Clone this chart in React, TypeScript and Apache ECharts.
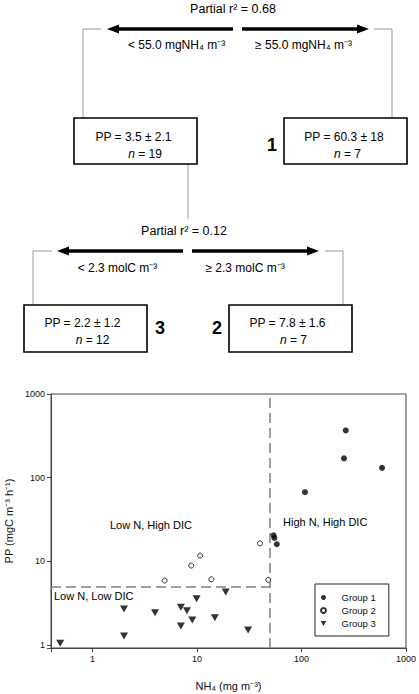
import React, { useEffect, useRef } from "react";
import * as echarts from "echarts";

// ---- data ----
const group1NH4 = [265, 255, 590, 108, 54, 55, 58];
const group1PP = [367, 170, 131, 67, 20.5, 19, 16];
const group2NH4 = [4.9, 8.8, 10.7, 13.7, 40, 48];
const group2PP = [5.9, 8.9, 11.7, 6.1, 16.4, 6.0];
const group3NH4 = [0.49, 2.0, 2.0, 3.96, 7.0, 8.0, 7.0, 9.0, 9.9, 18.8, 14.8, 30.8];
const group3PP = [1.05, 2.69, 1.28, 2.43, 2.82, 2.57, 1.69, 1.99, 3.57, 4.3, 2.12, 1.51];
const seriesNames = ["Group 1", "Group 2", "Group 3"];
const nh4Threshold = 50;
const ppThreshold = 5;
const xMin = 0.4;
const xMax = 1000;
const yMin = 0.92;
const yMax = 1000;

const zip = (a: number[], b: number[]) => a.map((v, i) => [v, b[i]]);

const FONT = "'Liberation Sans', Arial, sans-serif";

const isPow10 = (v: number) => {
  const l = Math.log10(v);
  return Math.abs(l - Math.round(l)) < 1e-6;
};
const fmt = (v: number) => (isPow10(v) ? String(Math.round(v)) : "");

function txt(x: number, y: number, text: string, opts: any = {}) {
  return {
    type: "text",
    x,
    y,
    silent: true,
    style: {
      text,
      fill: opts.fill || "#000",
      font: opts.font || `12px ${FONT}`,
      textAlign: opts.align || "center",
      textVerticalAlign: "middle",
      align: opts.align || "center",
      verticalAlign: "middle",
      rich: opts.rich,
    },
  };
}

function arrow(x1: number, tip: number, y: number) {
  const dir = tip < x1 ? -1 : 1;
  const base = tip - dir * 12;
  return [
    {
      type: "line",
      silent: true,
      shape: { x1, y1: y, x2: base, y2: y },
      style: { stroke: "#000", lineWidth: 3.5 },
    },
    {
      type: "polygon",
      silent: true,
      shape: { points: [[tip, y], [base, y - 4.5], [base, y + 4.5]] },
      style: { fill: "#000" },
    },
  ];
}

function grayLine(points: number[][]) {
  return {
    type: "polyline",
    silent: true,
    shape: { points },
    style: { stroke: "#9a9a9a", lineWidth: 1, fill: "none" },
  };
}

function box(x: number, y: number, w: number, h: number) {
  return {
    type: "rect",
    silent: true,
    shape: { x, y, width: w, height: h },
    style: { fill: "#fff", stroke: "#000", lineWidth: 1.6 },
  };
}

const nRich = { i: { fontStyle: "italic", fontSize: 12, fontFamily: FONT } };

export default function App() {
  const ref = useRef<HTMLDivElement>(null);

  useEffect(() => {
    if (!ref.current) return;
    const chart = echarts.init(ref.current, undefined, { renderer: "svg" });

    const graphics: any[] = [
      // top split
      txt(233, 9, "Partial r² = 0.68", { font: `12.5px ${FONT}` }),
      ...arrow(233, 107, 29),
      ...arrow(242, 369, 29),
      grayLine([[101, 29], [83, 29], [83, 118]]),
      grayLine([[374, 29], [392, 29], [392, 118]]),
      txt(176.5, 45, "< 55.0 mgNH₄ m⁻³"),
      txt(303.5, 45, "≥ 55.0 mgNH₄ m⁻³"),
      grayLine([[188, 164], [188, 219]]),
      box(74, 118, 123, 46),
      txt(133.5, 137, "PP = 3.5 ± 2.1"),
      txt(145, 154, "{i|n} = 19", { rich: nRich }),
      box(284, 118, 123, 46),
      txt(344, 137, "PP = 60.3 ± 18"),
      txt(347.5, 154, "{i|n} = 7", { rich: nRich }),
      txt(272, 145, "1", { font: `bold 18px ${FONT}` }),
      // second split
      txt(184, 231, "Partial r² = 0.12", { font: `12.5px ${FONT}` }),
      ...arrow(183, 57, 251),
      ...arrow(192, 319, 251),
      grayLine([[52, 251], [33, 251], [33, 305]]),
      grayLine([[325, 251], [343, 251], [343, 305]]),
      txt(117.5, 268, "< 2.3 molC m⁻³"),
      txt(245, 268, "≥ 2.3 molC m⁻³"),
      box(24, 305, 123, 47),
      txt(82.5, 323, "PP = 2.2 ± 1.2"),
      txt(92.5, 340, "{i|n} = 12", { rich: nRich }),
      txt(160, 328, "3", { font: `bold 18px ${FONT}` }),
      box(229, 305, 123, 47),
      txt(287.5, 323, "PP = 7.8 ± 1.6"),
      txt(293.5, 340, "{i|n} = 7", { rich: nRich }),
      txt(217, 328, "2", { font: `bold 18px ${FONT}` }),
      // plot annotations
      txt(110, 525, "Low N, High DIC", { align: "left", font: `11px ${FONT}` }),
      txt(283, 522, "High N, High DIC", { align: "left", font: `11px ${FONT}` }),
      txt(54, 596, "Low N, Low DIC", { align: "left", font: `11px ${FONT}` }),
    ];

    const option: any = {
      animation: false,
      backgroundColor: "#fff",
      textStyle: { fontFamily: FONT },
      grid: {
        left: 51,
        top: 394,
        right: 13,
        bottom: 46,
        show: true,
        borderColor: "#444",
        borderWidth: 1,
        containLabel: false,
        outerBoundsMode: "none",
      },
      xAxis: {
        type: "log",
        logBase: 10,
        min: xMin,
        max: xMax,
        name: "NH₄ (mg m⁻³)",
        nameLocation: "middle",
        nameGap: 32,
        nameTextStyle: { fontSize: 11, color: "#111", fontFamily: FONT },
        axisLine: { show: true, lineStyle: { color: "#444", width: 1 } },
        axisTick: { show: true, inside: false, length: 4, lineStyle: { color: "#444" } },
        axisLabel: { fontSize: 9, color: "#111", margin: 6, formatter: fmt, fontFamily: FONT },
        splitLine: { show: false },
        minorTick: { show: false },
      },
      yAxis: {
        type: "log",
        logBase: 10,
        min: yMin,
        max: yMax,
        name: "PP (mgC m⁻³ h⁻¹)",
        nameLocation: "middle",
        nameGap: 36,
        nameTextStyle: { fontSize: 11, color: "#111", fontFamily: FONT },
        axisLine: { show: true, lineStyle: { color: "#444", width: 1 } },
        axisTick: { show: true, inside: false, length: 4, lineStyle: { color: "#444" } },
        axisLabel: { fontSize: 9, color: "#111", margin: 6, formatter: fmt, fontFamily: FONT },
        splitLine: { show: false },
      },
      legend: {
        orient: "vertical",
        left: 315,
        top: 584,
        padding: [7, 13, 6, 5],
        itemWidth: 26,
        itemHeight: 5,
        itemGap: 0,
        borderColor: "#222",
        borderWidth: 1,
        backgroundColor: "#fff",
        textStyle: { fontSize: 9.5, color: "#111", lineHeight: 13, fontFamily: FONT },
        data: [
          { name: seriesNames[0], icon: "circle" },
          { name: seriesNames[1], icon: "circle" },
          { name: seriesNames[2], icon: "path://M0,0L10,0L5,9Z" },
        ],
      },
      series: [
        {
          name: seriesNames[0],
          type: "scatter",
          data: zip(group1NH4, group1PP),
          symbol: "circle",
          symbolSize: 6,
          itemStyle: { color: "#000" },
          z: 5,
        },
        {
          name: seriesNames[1],
          type: "scatter",
          data: zip(group2NH4, group2PP),
          symbol: "circle",
          symbolSize: 5,
          itemStyle: { color: "#fff", borderColor: "#000", borderWidth: 1 },
          z: 5,
        },
        {
          name: seriesNames[2],
          type: "scatter",
          data: zip(group3NH4, group3PP),
          symbol: "triangle",
          symbolRotate: 180,
          symbolSize: [8, 7],
          itemStyle: { color: "#000" },
          z: 5,
        },
        {
          name: "thresholds",
          type: "scatter",
          data: [],
          silent: true,
          z: 2,
          markLine: {
            silent: true,
            symbol: "none",
            label: { show: false },
            lineStyle: { color: "#808080", type: [10, 5], width: 1.5 },
            data: [
              { xAxis: nh4Threshold },
              [{ coord: [xMin, ppThreshold] }, { coord: [nh4Threshold, ppThreshold] }],
            ],
          },
        },
      ],
      graphic: graphics,
    };

    chart.setOption(option);
    return () => chart.dispose();
  }, []);

  return (
    <div
      ref={ref}
      style={{ position: "fixed", left: 0, top: 0, width: 419, height: 694, background: "#fff" }}
    />
  );
}
